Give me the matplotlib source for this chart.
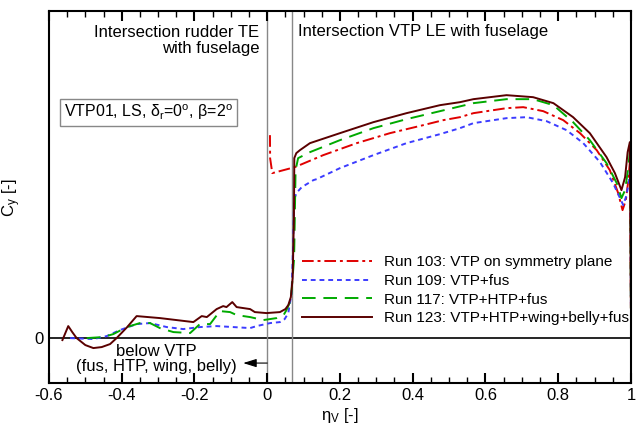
import matplotlib.pyplot as plt
from matplotlib.ticker import MultipleLocator

plt.rcParams["font.family"] = ["Liberation Sans", "DejaVu Sans"]
plt.rcParams["mathtext.fontset"] = "custom"
plt.rcParams["mathtext.rm"] = "Liberation Sans"
plt.rcParams["mathtext.it"] = "Liberation Sans:italic"

# Run 103: VTP on symmetry plane
eta_103 = [0.0076, 0.0080, 0.014, 0.076, 0.154, 0.246, 0.3375, 0.429, 0.484, 0.530, 0.567,
           0.658, 0.704, 0.759, 0.814, 0.860, 0.906, 0.942, 0.965, 0.977, 0.986, 0.993, 0.998, 1.0]
cy_103 = [0.203, 0.180, 0.165, 0.171, 0.183, 0.195, 0.205, 0.213, 0.218, 0.221, 0.225,
          0.230, 0.231, 0.227, 0.218, 0.205, 0.188, 0.168, 0.145, 0.128, 0.138, 0.158, 0.180, 0.03]

# Run 109: VTP+fus
eta_109 = [-0.542, -0.478, -0.441, -0.405, -0.359, -0.322, -0.276, -0.231, -0.185, -0.139,
           -0.093, -0.047, -0.029, 0.008, 0.035, 0.048, 0.058, 0.067, 0.071, 0.074, 0.080, 0.095,
           0.127, 0.136, 0.2, 0.292, 0.383, 0.475, 0.530, 0.567, 0.658, 0.713, 0.768, 0.823,
           0.869, 0.915, 0.951, 0.970, 0.979, 0.988, 0.995, 0.999, 1.0]
cy_109 = [0.0, -0.001, 0.002, 0.008, 0.014, 0.015, 0.011, 0.009, 0.011, 0.012,
          0.011, 0.010, 0.012, 0.015, 0.016, 0.019, 0.025, 0.045, 0.090, 0.138, 0.145, 0.151,
          0.158, 0.159, 0.170, 0.183, 0.195, 0.204, 0.210, 0.215, 0.220, 0.221, 0.217, 0.208,
          0.195, 0.176, 0.155, 0.140, 0.133, 0.143, 0.158, 0.175, 0.03]

# Run 117: VTP+HTP+fus
eta_117 = [-0.496, -0.451, -0.423, -0.386, -0.350, -0.322, -0.295, -0.258, -0.212, -0.203,
           -0.185, -0.157, -0.130, -0.102, -0.084, -0.047, -0.011, 0.026, 0.045, 0.053, 0.065,
           0.074, 0.078, 0.085, 0.1175, 0.2, 0.292, 0.383, 0.475, 0.521, 0.567, 0.658, 0.731,
           0.787, 0.841, 0.887, 0.933, 0.961, 0.974, 0.984, 0.993, 0.998, 1.0]
cy_117 = [0.0, 0.001, 0.004, 0.011, 0.015, 0.015, 0.010, 0.006, 0.005, 0.008,
          0.014, 0.014, 0.027, 0.026, 0.023, 0.021, 0.018, 0.020, 0.023, 0.028, 0.038,
          0.080, 0.168, 0.180, 0.186, 0.198, 0.210, 0.219, 0.227, 0.231, 0.235, 0.239, 0.239,
          0.233, 0.216, 0.198, 0.175, 0.155, 0.140, 0.148, 0.171, 0.190, 0.03]

# Run 123: VTP+HTP+wing+belly+fus
eta_123 = [-0.563, -0.555, -0.547, -0.536, -0.524, -0.500, -0.478, -0.455, -0.432, -0.414,
           -0.385, -0.359, -0.295, -0.203, -0.180, -0.166, -0.139, -0.121, -0.112, -0.096,
           -0.084, -0.047, -0.034, -0.002, 0.035, 0.050, 0.058, 0.065, 0.070, 0.0735, 0.0745,
           0.080, 0.090, 0.1175, 0.2, 0.292, 0.383, 0.475, 0.530, 0.567, 0.658, 0.731, 0.787,
           0.841, 0.887, 0.933, 0.956, 0.974, 0.984, 0.991, 0.997, 1.0]
cy_123 = [-0.002, 0.005, 0.012, 0.006, 0.0, -0.007, -0.010, -0.009, -0.006, 0.0,
          0.011, 0.022, 0.020, 0.016, 0.022, 0.021, 0.029, 0.032, 0.031, 0.036,
          0.031, 0.029, 0.026, 0.025, 0.026, 0.029, 0.033, 0.041, 0.060, 0.120, 0.180,
          0.185, 0.188, 0.195, 0.205, 0.216, 0.225, 0.233, 0.236, 0.239, 0.243, 0.241, 0.235,
          0.221, 0.205, 0.181, 0.165, 0.148, 0.161, 0.186, 0.196, 0.03]

labels = ["Run 103: VTP on symmetry plane", "Run 109: VTP+fus",
          "Run 117: VTP+HTP+fus", "Run 123: VTP+HTP+wing+belly+fus"]
xticks = [-0.6, -0.4, -0.2, 0, 0.2, 0.4, 0.6, 0.8, 1.0]
xtick_labels = ["-0.6", "-0.4", "-0.2", "0", "0.2", "0.4", "0.6", "0.8", "1"]

fig = plt.figure(figsize=(6.36, 4.28), dpi=100)
ax = fig.add_axes([0.077, 0.105, 0.915, 0.870])

ax.axhline(0, color="black", lw=1.2, zorder=1)
ax.axvline(0, color="#888888", lw=1.0, zorder=1)
ax.axvline(0.068, color="#888888", lw=1.0, zorder=1)

ax.plot(eta_103, cy_103, color="#e00000", lw=1.4, ls=(0, (6, 2, 1.5, 2)), label=labels[0])
ax.plot(eta_109, cy_109, color="#3c3cff", lw=1.4, ls=(0, (2.5, 2)), label=labels[1])
ax.plot(eta_117, cy_117, color="#00aa00", lw=1.4, ls=(0, (7, 4)), label=labels[2])
ax.plot(eta_123, cy_123, color="#5a0000", lw=1.4, ls="-", label=labels[3])

ax.set_xlim(-0.6, 1.0)
ax.set_ylim(-0.045, 0.3275)
ax.set_xticks(xticks)
ax.set_xticklabels(xtick_labels)
ax.xaxis.set_minor_locator(MultipleLocator(0.05))
ax.set_yticks([0])
ax.set_yticklabels(["0"])
ax.tick_params(axis="x", which="major", direction="in", top=True, length=7, width=1.5, labelsize=12)
ax.tick_params(axis="x", which="minor", direction="in", top=True, length=4, width=1.0)
ax.tick_params(axis="y", length=0, labelsize=12, pad=4)
for s in ax.spines.values():
    s.set_linewidth(1.5)

ax.set_xlabel("η$_\\mathregular{V}$ [-]", fontsize=12, labelpad=2)
ax.set_ylabel("C$_\\mathregular{y}$ [-]", fontsize=12)
ax.yaxis.set_label_coords(-0.045, 0.497)

ax.text(-0.022, 0.2975, "Intersection rudder TE\nwith fuselage", ha="right", va="center",
        fontsize=12, linespacing=1.1)
ax.text(0.084, 0.307, "Intersection VTP LE with fuselage", ha="left", va="center", fontsize=12)
ax.text(-0.559, 0.2255, "VTP01, LS, δ$_\\mathregular{r}$=0$^\\mathregular{o}$, β=2$^\\mathregular{o}$",
        ha="left", va="center", fontsize=11.5,
        bbox=dict(boxstyle="square,pad=0.25", fc="white", ec="#888888", lw=1.0))
ax.text(-0.306, -0.021, "below VTP\n(fus, HTP, wing, belly)", ha="center", va="center",
        fontsize=12, linespacing=1.05)
ax.annotate("", xy=(-0.066, -0.025), xytext=(0.0, -0.025),
            arrowprops=dict(arrowstyle="-|>,head_length=0.8,head_width=0.25", color="black",
                            lw=0.8, mutation_scale=10, shrinkA=0, shrinkB=0))

ax.legend(loc="lower right", bbox_to_anchor=(1.008, 0.139), frameon=False, fontsize=11,
          handlelength=4.6, handletextpad=0.8, labelspacing=0.3, borderaxespad=0.0)

plt.savefig("out.png", dpi=100)
